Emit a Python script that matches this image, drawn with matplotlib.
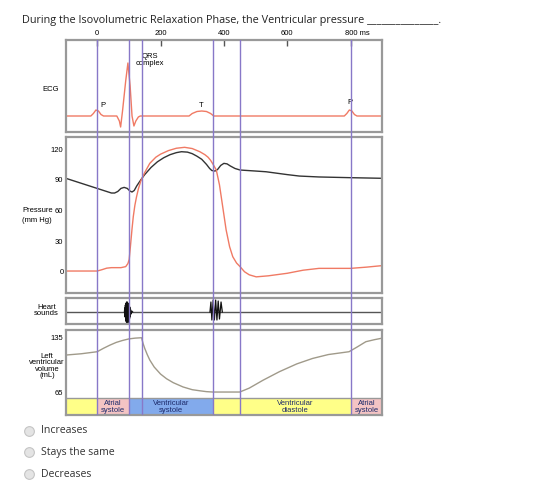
import numpy as np
import matplotlib
matplotlib.use('Agg')
import matplotlib.pyplot as plt
from matplotlib.lines import Line2D

plt.rcParams['font.family'] = ['Liberation Sans', 'DejaVu Sans']

# time axis (ms)
tempo_ticks = [0, 200, 400, 600, 800]
fases = [-100, 0, 100, 140, 365, 450, 800]   # linhas verticais (roxas)

# ECG (ms, unidades arbitrarias)
ecg_t = [-100, -20, -12, -4, 4, 12, 20, 62, 70, 74, 80, 90, 97, 104, 110, 116, 122, 130, 136,
         290, 300, 315, 330, 345, 358, 368, 780, 788, 796, 804, 812, 820, 900]
ecg_v = [0, 0, 2.5, 6, 5, 1.5, 0, 0, -5, -11, 5, 35, 53, 30, 0, -10, -5, -1, 0,
         0, 2.5, 4.5, 5, 4.5, 2.5, 0, 0, 2.5, 6, 5, 1.5, 0, 0]

# pressao aortica (mm Hg)
aorta_t = [-100, -50, 0, 25, 45, 55, 65, 75, 85, 95, 103, 110, 117, 125, 138, 150, 170, 190, 210,
           230, 250, 266, 285, 300, 315, 330, 345, 355, 362, 372, 380, 390, 400, 410, 420, 435,
           451, 500, 533, 600, 638, 700, 800, 900]
aorta_p = [91.5, 86.5, 81.5, 79, 77, 77, 78.5, 81.5, 82.5, 81.5, 79, 78, 79.5, 84, 90, 95, 102, 107.5,
           111.5, 114.5, 116.5, 117.4, 117, 115.5, 113, 110, 105, 101, 99, 98.5, 100, 104, 106, 105.5,
           103.5, 101, 99.5, 98.5, 97.8, 95, 93.6, 92.7, 92, 91.4]

# pressao ventricular (mm Hg)
vent_t = [-100, 0, 15, 30, 45, 75, 90, 97, 101, 105, 110, 114, 119, 124, 130, 138, 150, 166, 185,
          200, 225, 250, 276, 300, 324, 340, 350, 358, 366, 376, 386, 397, 407, 418, 428, 440, 451,
          465, 480, 502, 540, 600, 650, 700, 800, 850, 900]
vent_p = [0.7, 0.7, 2, 3.5, 4, 4, 5, 8, 12, 25, 42, 54, 65, 73, 81, 89, 97, 106, 112,
          115, 118.5, 120.8, 121.7, 120.5, 117.4, 114.5, 112, 109, 105, 99.5, 85, 62, 41, 24.5, 14.7,
          8.5, 5, 0, -3, -5, -4, -1.5, 1.5, 3.3, 3.3, 4.5, 6]

# bulhas cardiacas
s1_t = [86, 87, 88, 89, 90, 91, 92, 93, 94, 95, 96, 97, 98, 99, 100, 101, 102, 103, 104, 105, 107, 109, 112]
s1_v = [0, 4, -5, 7, -8, 9, -10, 10, -11, 10, -11, 9, -10, 8, -9, 7, -7, 5, -5, 3, -2, 1, 0]
s2_t = [356, 359, 362, 366, 370, 374, 378, 382, 386, 391, 395]
s2_v = [0, 10, -8, 12, -8, 12, -8, 11, -7, 10, 0]

# volume ventricular esquerdo (mL)
vol_t = [-100, -50, 0, 20, 40, 60, 80, 100, 120, 140, 145, 150, 158, 166, 180, 200, 219, 240, 271,
         300, 324, 345, 365, 450, 480, 523, 575, 630, 680, 730, 795, 820, 848, 875, 900]
vol_v = [112.3, 114, 116.6, 121, 125, 128.5, 131, 133, 134, 134.5, 127, 121, 113, 106, 97, 88, 82,
         77, 71.5, 68, 66.6, 65.5, 65, 65, 70, 80, 91, 101, 108, 113, 116.6, 122.5, 129.4, 132, 134]

# barra de fases
fase_ini = [-100, 0, 100, 365, 450, 800]
fase_fim = [0, 100, 365, 450, 800, 900]
fase_cor = ['#ffff88', '#f4c4c4', '#82aaec', '#ffff88', '#ffff88', '#f4c4c4']
fase_txt = ['', 'Atrial\nsystole', 'Ventricular\nsystole', '', 'Ventricular\ndiastole', 'Atrial\nsystole']

opcoes = ['Increases', 'Stays the same', 'Decreases']

W, H = 560, 499
fig = plt.figure(figsize=(W / 100, H / 100), dpi=100)

def caixa(top, bottom):
    return [65.5 / W, 1 - bottom / H, (382.3 - 65.5) / W, (bottom - top) / H]

cinza = '#999999'
roxo = '#8878c8'
fs = 5.5

def estilo(ax):
    ax.set_xlim(-100, 900)
    ax.set_facecolor('none')
    for s in ax.spines.values():
        s.set_color(cinza)
        s.set_linewidth(1.6)
    ax.set_xticks([])

ax1 = fig.add_axes(caixa(40, 131.7))
ax2 = fig.add_axes(caixa(137.3, 292.7))
ax3 = fig.add_axes(caixa(297.7, 324.3))
ax4 = fig.add_axes(caixa(330, 415))
for ax in (ax1, ax2, ax3, ax4):
    estilo(ax)

# ECG
ax1.plot(ecg_t, ecg_v, color='#f07a64', lw=1.0)
ax1.set_ylim(-15.7, 76)
ax1.set_yticks([])
ax1.xaxis.tick_top()
ax1.set_xticks(tempo_ticks)
ax1.set_xticklabels(['0', '200', '400', '600', ''])
ax1.tick_params(axis='x', direction='in', length=4, width=1, color='#555555',
                labelsize=fs, pad=2)
ax1.text(781, 79, '800 ms', fontsize=fs, ha='left', va='bottom')
ax1.text(10, 9, 'P', fontsize=fs)
ax1.text(329, 9, 'T', fontsize=fs, ha='center')
ax1.text(797, 12, 'P', fontsize=fs, ha='center')
ax1.text(165, 56, 'QRS\ncomplex', fontsize=fs, ha='center', va='center', linespacing=0.9)
fig.text(50.5 / W, 1 - 89.3 / H, 'ECG', fontsize=fs, ha='center', va='center')

# pressao
ax2.plot(aorta_t, aorta_p, color='#333333', lw=1.0)
ax2.plot(vent_t, vent_p, color='#f07a64', lw=1.0)
ax2.set_ylim(-20.5, 131.5)
ax2.set_yticks([0, 30, 60, 90, 120])
ax2.tick_params(axis='y', length=0, labelsize=fs, pad=1.5)
fig.text(22 / W, 1 - 210.3 / H, 'Pressure', fontsize=fs, ha='left', va='center')
fig.text(22 / W, 1 - 220 / H, '(mm Hg)', fontsize=fs, ha='left', va='center')

# bulhas
ax3.axhline(0, color='#555555', lw=1.0)
ax3.plot(s1_t, s1_v, color='#111111', lw=0.9)
ax3.plot(s2_t, s2_v, color='#111111', lw=0.9)
ax3.set_ylim(-12.3, 14.3)
ax3.set_yticks([])
fig.text(46.5 / W, 1 - 310.5 / H, 'Heart\nsounds', fontsize=fs, ha='center', va='center',
         linespacing=0.95)

# volume
ax4.plot(vol_t, vol_v, color='#a09a8a', lw=1.0)
ax4.set_ylim(35.6, 144.4)
ax4.set_yticks([65, 135])
ax4.tick_params(axis='y', length=0, labelsize=fs, pad=1.5)
fig.text(47 / W, 1 - 366 / H, 'Left\nventricular\nvolume\n(mL)', fontsize=fs, ha='center',
         va='center', linespacing=0.9)
ax4.bar(fase_ini, 57 - 35.6, width=np.subtract(fase_fim, fase_ini), bottom=35.6, align='edge',
        color=fase_cor, edgecolor='#888888', lw=0.6, zorder=0)
ax4.axhline(57, color=cinza, lw=1.0)
for a, b, t in zip(fase_ini, fase_fim, fase_txt):
    ax4.text((a + b) / 2, 46.3, t, fontsize=fs, ha='center', va='center', color='#1c2a6a',
             linespacing=0.95)

# linhas verticais atravessando todos os paineis
axv = fig.add_axes([65.5 / W, 1 - 415 / H, (382.3 - 65.5) / W, (415 - 40) / H], zorder=5)
axv.set_xlim(-100, 900)
axv.axis('off')
for x in fases[1:]:
    axv.axvline(x, color=roxo, lw=1.0)

# titulo e opcoes
fig.text(22 / W, 1 - 20 / H, 'During the Isovolumetric Relaxation Phase, the Ventricular pressure'
         ' _______________.', fontsize=7.8, family='Open Sans', va='center', color='#222222')
for i, op in enumerate(opcoes):
    y = 1 - (430.7 + 21.7 * i) / H
    fig.add_artist(Line2D([29 / W], [y], marker='o', markersize=7, color='#e4e4e4',
                          markeredgecolor='#c4c4c4', markeredgewidth=0.8,
                          transform=fig.transFigure))
    fig.text(40.7 / W, y, op, fontsize=7.6, family='Open Sans', va='center', color='#333333')

fig.savefig('out.png', dpi=100)
